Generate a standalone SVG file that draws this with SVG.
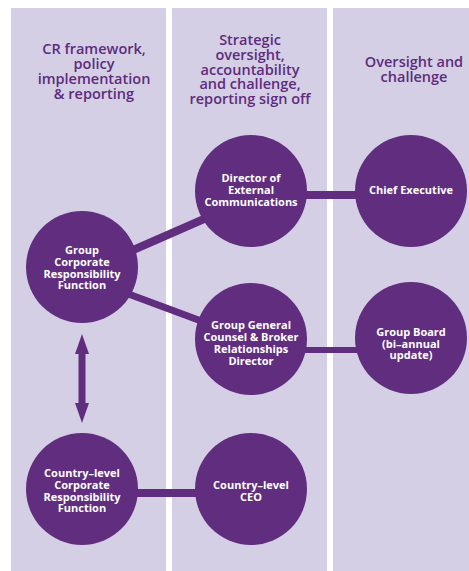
<svg xmlns="http://www.w3.org/2000/svg" width="469" height="571" viewBox="0 0 469 571">
  <style>
    .panel { fill: #d4cfe4; }
    .head { font-family: "Open Sans", "Liberation Sans", sans-serif; font-weight: 600; font-size: 14.5px; fill: #5e2b7e; text-anchor: middle; }
    .node circle { fill: #612d7f; }
    .node text { font-family: "Open Sans", "Liberation Sans", sans-serif; font-weight: 700; font-size: 11px; fill: #ffffff; text-anchor: middle; }
    .link { stroke: #612d7f; fill: none; }
  </style>
  <defs>
    <marker id="head" viewBox="0 0 20 14" refX="2" refY="7" markerWidth="20" markerHeight="14" markerUnits="userSpaceOnUse" orient="auto-start-reverse">
      <path d="M0,0 L20,7 L0,14 Z" fill="#612d7f"/>
    </marker>
  </defs>

  <rect width="469" height="571" fill="#ffffff"/>

  <!-- column panels -->
  <g id="panels">
    <rect class="panel" x="11" y="8" width="155" height="563"/>
    <rect class="panel" x="172" y="8" width="155" height="563"/>
    <rect class="panel" x="333" y="8" width="136" height="563"/>
  </g>

  <!-- column headings -->
  <g id="headings">
    <text class="head" x="94" y="54">CR framework,</text>
    <text class="head" x="94" y="69">policy</text>
    <text class="head" x="94" y="84">implementation</text>
    <text class="head" x="94" y="99">&amp; reporting</text>

    <text class="head" x="250" y="44.5">Strategic</text>
    <text class="head" x="250" y="59.5">oversight,</text>
    <text class="head" x="250" y="74.5">accountability</text>
    <text class="head" x="250" y="89">and challenge,</text>
    <text class="head" x="250" y="104">reporting sign off</text>

    <text class="head" x="414" y="66.5">Oversight and</text>
    <text class="head" x="414" y="81.5">challenge</text>
  </g>

  <!-- connectors -->
  <g id="connectors">
    <line class="link" x1="115" y1="258" x2="220" y2="212" stroke-width="8"/>
    <line class="link" x1="115" y1="289" x2="220" y2="328" stroke-width="7"/>
    <line class="link" x1="251" y1="195" x2="411" y2="195" stroke-width="8"/>
    <line class="link" x1="251" y1="350" x2="411" y2="350" stroke-width="6"/>
    <line class="link" x1="82" y1="493" x2="251" y2="493" stroke-width="8"/>
    <line class="link" x1="82" y1="352" x2="82" y2="405" stroke-width="7" marker-start="url(#head)" marker-end="url(#head)"/>
  </g>

  <!-- nodes -->
  <g id="group-cr" class="node">
    <circle cx="82" cy="267" r="56"/>
    <text x="82" y="254">Group</text>
    <text x="82" y="266">Corporate</text>
    <text x="82" y="277.5">Responsibility</text>
    <text x="82" y="289">Function</text>
  </g>

  <g id="director-ext-comms" class="node">
    <circle cx="251" cy="191" r="56"/>
    <text x="251" y="182">Director of</text>
    <text x="251" y="194">External</text>
    <text x="251" y="206">Communications</text>
  </g>

  <g id="chief-executive" class="node">
    <circle cx="411" cy="191" r="56"/>
    <text x="411" y="194">Chief Executive</text>
  </g>

  <g id="general-counsel" class="node">
    <circle cx="251" cy="339" r="56"/>
    <text x="251" y="329">Group General</text>
    <text x="251" y="341">Counsel &amp; Broker</text>
    <text x="251" y="353">Relationships</text>
    <text x="251" y="365">Director</text>
  </g>

  <g id="group-board" class="node">
    <circle cx="411" cy="338" r="56"/>
    <text x="411" y="336">Group Board</text>
    <text x="411" y="347.5">(bi–annual</text>
    <text x="411" y="359">update)</text>
  </g>

  <g id="country-cr" class="node">
    <circle cx="82" cy="489" r="56"/>
    <text x="82" y="477">Country–level</text>
    <text x="82" y="489">Corporate</text>
    <text x="82" y="500.5">Responsibility</text>
    <text x="82" y="512">Function</text>
  </g>

  <g id="country-ceo" class="node">
    <circle cx="251" cy="489" r="56"/>
    <text x="251" y="489">Country–level</text>
    <text x="251" y="501">CEO</text>
  </g>
</svg>
